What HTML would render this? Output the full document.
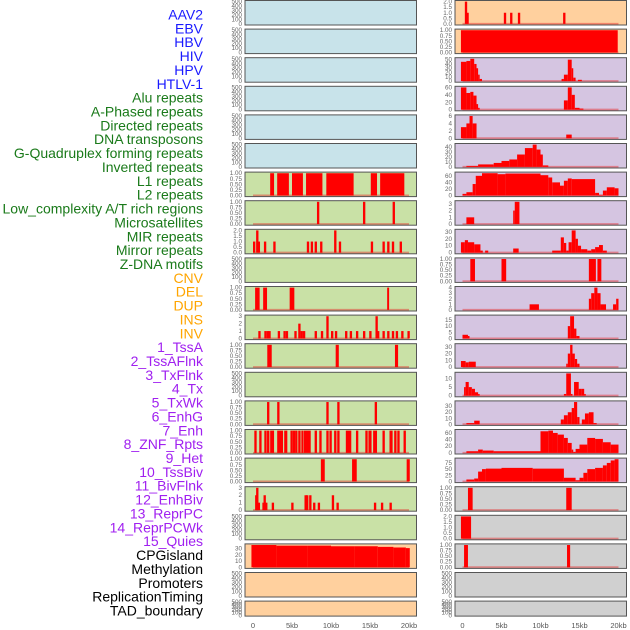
<!DOCTYPE html>
<html><head><meta charset="utf-8"><style>
html,body{margin:0;padding:0;background:#fff;}
svg{display:block;font-family:"Liberation Sans",sans-serif;}
</style></head><body>
<svg id="chart" width="630" height="630" viewBox="0 0 630 630"></svg>
<script>
// ---- labels ----
const labelNames = ["AAV2","EBV","HBV","HIV","HPV","HTLV-1","Alu repeats","A-Phased repeats","Directed repeats","DNA transposons","G-Quadruplex forming repeats","Inverted repeats","L1 repeats","L2 repeats","Low_complexity A/T rich regions","Microsatellites","MIR repeats","Mirror repeats","Z-DNA motifs","CNV","DEL","DUP","INS","INV","1_TssA","2_TssAFlnk","3_TxFlnk","4_Tx","5_TxWk","6_EnhG","7_Enh","8_ZNF_Rpts","9_Het","10_TssBiv","11_BivFlnk","12_EnhBiv","13_ReprPC","14_ReprPCWk","15_Quies","CPGisland","Methylation","Promoters","ReplicationTiming","TAD_boundary"];
const labelGroups = [6,13,5,15,5];
const groupColors = ["#1a1aff","#1a7a1a","#ffa500","#a020f0","#000000"];

// ---- left column data: segments [startKb, endKb, value] ----
const L6 = [[2.2,2.7,1],[3.1,4.6,1],[5.0,6.4,1],[6.8,8.9,1],[9.4,12.9,1],[15.1,15.9,1],[16.3,19.4,1]];
const L7 = [[8.2,8.5,1],[14.1,14.4,1],[17.9,18.2,1]];
const L8spk = [[0,1],[0.4,2],[0.6,1],[1.4,1],[2.6,1],[6.9,1],[7.4,1],[7.9,1],[8.6,1],[10.4,2],[11.0,1],[15.1,1],[16.6,1],[17.2,1],[17.8,1],[18.8,1]];
const L10 = [[0.27,0.85,1],[1.3,1.8,1],[4.7,5.3,1],[17.2,17.45,1]];
const L11spk = [[0.68,1],[1.45,1],[1.75,1],[1.97,1],[3.17,1],[3.9,1],[4.2,1],[5.3,1],[5.8,2],[6.1,1],[6.4,1],[7.9,1],[8.7,1],[9.4,3],[10.0,1],[10.5,1],[11.8,1],[12.4,1],[13.2,1],[14.1,1],[14.9,1],[15.7,3],[15.9,1],[16.6,1],[17.2,1],[17.8,1],[18.3,1],[19.0,1],[19.8,1]];
const L12 = [[1.83,2.4,1],[10.6,11.0,1],[18.2,18.6,1]];
const L14 = [[1.8,2.1,1],[3.1,3.4,1],[9.4,9.7,1],[10.8,11.1,1],[15.6,15.9,1]];
const L15 = [[0.17,0.47,1],[0.8,1.1,1],[1.45,1.75,1],[1.8,2.1,1],[2.2,2.7,1],[3.1,3.85,1],[4.0,4.4,1],[4.8,5.1,1],[5.1,5.4,1],[5.4,5.7,1],[5.8,6.1,1],[6.2,6.45,1],[6.5,7.4,1],[7.9,8.2,1],[8.5,8.8,1],[9.4,9.7,1],[9.8,10.1,1],[10.4,10.7,1],[10.8,11.1,1],[11.9,12.6,1],[13.2,13.5,1],[14.4,14.7,1],[14.8,15.2,1],[15.4,15.9,1],[16.6,16.9,1],[17.5,17.9,1],[18.1,18.4,1],[18.5,18.8,1],[19.3,19.6,1]];
const L16 = [[8.7,9.2,1],[12.7,13.3,1],[19.7,20.1,1]];
const L17spk = [[0.27,2],[0.4,3],[0.6,1],[1.2,1],[1.35,2],[1.55,1],[2.4,1],[4.9,1],[6.6,2],[6.8,2],[7.2,2],[7.7,1],[8.3,1],[10.1,2],[10.7,1],[15.5,1],[16.4,1],[17.5,1]];
const L19 = [[-0.2,3,36],[3,7,35],[7,10,35],[10,13,34],[13,16,34],[16,18,33],[18,19.6,32],[19.6,20.1,31]];

// ---- right column data ----
const R0spk = [[0.3,2],[0.5,1],[5.3,1],[6.1,1],[7.1,1],[12.9,1]];
const R1 = [[-0.2,19.9,1]];
const R2 = [[-0.2,0.5,45],[0.5,1,47],[1,1.5,52],[1.5,1.8,40],[1.8,2,30],[2,2.2,15],[2.2,2.5,5],[12.7,13,5],[13,13.5,15],[13.5,14,50],[14,14.2,30],[14.2,14.5,8],[14.8,15.3,3]];
const R3 = [[-0.2,0.5,60],[0.5,1,45],[1,1.4,48],[1.4,1.8,38],[1.8,2,15],[2,2.2,5],[13,13.5,25],[13.5,14,60],[14,14.4,40],[14.4,15,5],[15,15.5,3]];
const R4 = [[-0.2,0.5,3],[0.5,0.9,4],[0.9,1.3,6],[1.3,1.8,4],[13.3,14,1]];
const R5 = [[0.5,2,2],[2,4,5],[4,5,8],[5,6,12],[6,7,15],[7,8,25],[8,9,38],[9,9.5,45],[9.5,10,35],[10,10.3,25],[10.3,11,3]];
const R6 = [[0,0.5,5],[0.5,1.3,10],[1.3,1.7,35],[1.7,2.5,60],[2.5,4.5,68],[4.5,5.5,65],[5.5,10,67],[10,11,62],[11,11.5,55],[11.5,12.5,40],[12.5,13,30],[13,13.5,45],[13.5,14,52],[14,17,50],[17,17.5,8],[17.5,18,2],[18,18.5,15],[18.5,19.5,25],[19.5,20,22]];
const R7 = [[0.5,1.5,1],[6.5,6.7,2],[6.7,7.3,3.3]];
const R8 = [[-0.2,0.3,15],[0.3,0.7,18],[0.7,1.5,15],[1.5,2.3,12],[2.3,2.6,3],[2.9,3.3,3],[6.5,7.2,6],[11.5,12.6,3],[12.6,13,22],[13,13.3,14],[13.3,13.6,3],[13.6,14,15],[14,14.5,32],[14.5,14.8,20],[14.8,15.2,10],[15.2,16,5],[16,16.5,3],[16.5,17,5],[17,17.5,8],[17.5,18,11],[18,18.5,3]];
const R9 = [[1,1.6,1],[5,5.6,1],[16.2,17.1,1],[17.3,17.8,1]];
const R10 = [[8.6,9.8,1],[16.2,16.5,2],[16.5,16.9,3],[16.9,17.3,4],[17.3,17.7,3],[17.7,18.4,1],[19.3,19.7,1],[19.7,20,2]];
const R11 = [[0,0.7,3],[0.7,0.9,2],[13.5,13.8,10],[13.8,14.3,18],[14.3,14.6,8],[14.6,15,2]];
const R12 = [[-0.2,0.4,9],[0.4,0.8,7],[0.8,1.7,8],[13.3,13.5,5],[13.5,13.8,20],[13.8,14.1,33],[14.1,14.4,20],[14.4,14.7,12],[14.7,15,5]];
const R13 = [[0.2,0.4,5],[0.4,0.8,8],[0.8,1.2,5],[1.2,1.6,4],[1.6,2,2],[2,2.2,1],[13,13.3,1],[13.3,13.9,13],[13.9,14.1,1],[14.3,14.9,8],[14.9,15.3,4],[15.3,15.6,4],[15.6,15.8,1]];
const R14 = [[0.5,1.5,2],[1.5,2.2,6],[12.6,13,8],[13,13.5,15],[13.5,14,20],[14,14.3,27],[14.3,14.7,37],[14.7,15,12],[15.3,15.7,8],[15.7,16.2,18],[16.2,16.8,20],[16.8,17.2,2]];
const R15 = [[0.5,2,5],[2,2.6,10],[2.6,4,7],[4,10,5],[10,11,65],[11,11.6,67],[11.6,12.2,60],[12.2,13,55],[13,13.5,45],[13.5,14,30],[14,14.2,10],[14.2,14.5,3],[14.5,15,12],[15,16,25],[16,17,45],[17,18,42],[18,19,32],[19,20,25]];
const R16 = [[0.5,1.5,8],[1.5,2,12],[2,2.5,40],[2.5,3,50],[3,5,52],[5,9,55],[9,13,52],[13,14.5,15],[14.5,15,5],[15,15.5,15],[15.5,16,35],[16,17,50],[17,18,55],[18,18.5,65],[18.5,19,75],[19,19.5,85],[19.5,20,90]];
const R17 = [[0.7,1.3,1],[13.3,14,1]];
const R18 = [[-0.2,1.1,2]];
const R19 = [[0.2,0.7,1],[13.4,13.8,1]];

const xTickVals = [0,5,10,15,20];
const xTickLabels = ["0","5kb","10kb","15kb","20kb"];
const emptyTicks = [0,100,200,300,400,500];
const t01 = [0,0.25,0.5,0.75,1];
const t01L = ["0.00","0.25","0.50","0.75","1.00"];

function spikes(a){return a.map(p=>[p[0],p[0]+0.3,p[1]]);}

const leftPanels = [
 {bg:"#c8e3ea",d:[],max:500,t:emptyTicks},{bg:"#c8e3ea",d:[],max:500,t:emptyTicks},{bg:"#c8e3ea",d:[],max:500,t:emptyTicks},
 {bg:"#c8e3ea",d:[],max:500,t:emptyTicks},{bg:"#c8e3ea",d:[],max:500,t:emptyTicks},{bg:"#c8e3ea",d:[],max:500,t:emptyTicks},
 {bg:"#c9e1a6",d:L6,max:1,t:t01,tl:t01L},{bg:"#c9e1a6",d:L7,max:1,t:t01,tl:t01L},
 {bg:"#c9e1a6",d:spikes(L8spk),max:2,t:[0,0.5,1,1.5,2],tl:["0.0","0.5","1.0","1.5","2.0"]},
 {bg:"#c9e1a6",d:[],max:500,t:emptyTicks},{bg:"#c9e1a6",d:L10,max:1,t:t01,tl:t01L},
 {bg:"#c9e1a6",d:spikes(L11spk),max:3,t:[0,1,2,3]},{bg:"#c9e1a6",d:L12,max:1,t:t01,tl:t01L},
 {bg:"#c9e1a6",d:[],max:500,t:emptyTicks},{bg:"#c9e1a6",d:L14,max:1,t:t01,tl:t01L},
 {bg:"#c9e1a6",d:L15,max:1,t:t01,tl:t01L},{bg:"#c9e1a6",d:L16,max:1,t:t01,tl:t01L},
 {bg:"#c9e1a6",d:spikes(L17spk),max:3,t:[0,1,2,3]},{bg:"#c9e1a6",d:[],max:500,t:emptyTicks},
 {bg:"#ffd09e",d:L19,max:36,t:[0,10,20,30]},{bg:"#ffd09e",d:[],max:500,t:emptyTicks},{bg:"#ffd09e",d:[],max:500,t:emptyTicks}
];
const rightPanels = [
 {bg:"#ffd09e",d:spikes(R0spk),max:2,t:[0,0.5,1,1.5,2],tl:["0.0","0.5","1.0","1.5","2.0"]},
 {bg:"#ffd09e",d:R1,max:1,t:t01,tl:t01L},
 {bg:"#d5c5e1",d:R2,max:52,t:[0,10,20,30,40,50]},{bg:"#d5c5e1",d:R3,max:60,t:[0,20,40,60]},
 {bg:"#d5c5e1",d:R4,max:6,t:[0,2,4,6]},{bg:"#d5c5e1",d:R5,max:45,t:[0,10,20,30,40]},
 {bg:"#d5c5e1",d:R6,max:68,t:[0,20,40,60]},{bg:"#d5c5e1",d:R7,max:3.3,t:[0,1,2,3]},
 {bg:"#d5c5e1",d:R8,max:32,t:[0,10,20,30]},{bg:"#d5c5e1",d:R9,max:1,t:t01,tl:t01L},
 {bg:"#d5c5e1",d:R10,max:4,t:[0,1,2,3,4]},{bg:"#d5c5e1",d:R11,max:18,t:[0,5,10,15]},
 {bg:"#d5c5e1",d:R12,max:33,t:[0,10,20,30]},{bg:"#d5c5e1",d:R13,max:13,t:[0,5,10]},
 {bg:"#d5c5e1",d:R14,max:37,t:[0,10,20,30]},{bg:"#d5c5e1",d:R15,max:67,t:[0,20,40,60]},
 {bg:"#d5c5e1",d:R16,max:90,t:[0,25,50,75]},{bg:"#d0d0d0",d:R17,max:1,t:t01,tl:t01L},
 {bg:"#d0d0d0",d:R18,max:2,t:[0,0.5,1,1.5,2],tl:["0.0","0.5","1.0","1.5","2.0"]},
 {bg:"#d0d0d0",d:R19,max:1,t:t01,tl:t01L},{bg:"#d0d0d0",d:[],max:500,t:emptyTicks},{bg:"#d0d0d0",d:[],max:500,t:emptyTicks}
];

const NS="http://www.w3.org/2000/svg";
const svg=document.getElementById("chart");
function mk(tag,attrs,parent){const e=document.createElementNS(NS,tag);for(const k in attrs)e.setAttribute(k,attrs[k]);(parent||svg).appendChild(e);return e;}

// labels
let li=0;
labelGroups.forEach((n,g)=>{for(let k=0;k<n;k++){
  const t=mk("text",{x:203,y:19.5+li*13.86,"text-anchor":"end","font-size":"14",fill:groupColors[g]});
  t.textContent=labelNames[li];
  
  
  li++;}});

function drawPanel(p,i,x0,zeroX,col){
  const top=i*28.6+0.5, h=(i===21)?15:24.5, w=171.5;
  const g=mk("g",{});
  
  
  mk("rect",{x:x0,y:top,width:w,height:h,fill:p.bg},g);
  const ymin=-0.05*p.max, ymax=1.05*p.max;
  const ys=v=>top+h-(v-ymin)/(ymax-ymin)*h;
  const xs=kb=>zeroX+kb*7.8;
  if(p.d.length){
    mk("line",{x1:xs(0),x2:xs(20),y1:ys(0),y2:ys(0),stroke:"rgba(230,40,40,0.45)","stroke-width":2},g);
  }
  p.d.forEach(s=>{
    const r=mk("rect",{x:xs(s[0]),y:ys(s[2]),width:Math.max(xs(s[1])-xs(s[0]),1.5),height:ys(0)-ys(s[2]),fill:"#ff0000"},g);
    
    
  });
  mk("rect",{x:x0,y:top,width:w,height:h,fill:"none",stroke:"#555","stroke-width":1},g);
  p.t.forEach((tv,k)=>{
    const tt=mk("text",{x:x0-3,y:ys(tv)+2,"text-anchor":"end","font-size":"6.3",fill:"#666"},g);
    tt.textContent=p.tl?p.tl[k]:String(tv);
    
    
  });
}
leftPanels.forEach((p,i)=>drawPanel(p,i,245,253,'left'));
rightPanels.forEach((p,i)=>drawPanel(p,i,455,462.5,'right'));

[253,462.5].forEach(z=>{
  xTickVals.forEach((v,k)=>{
    const t=mk("text",{x:z+v*7.8,y:628,"text-anchor":"middle","font-size":"7.5",fill:"#555"});
    t.textContent=xTickLabels[k];
    
    
  });
});
</script>
</body></html>
